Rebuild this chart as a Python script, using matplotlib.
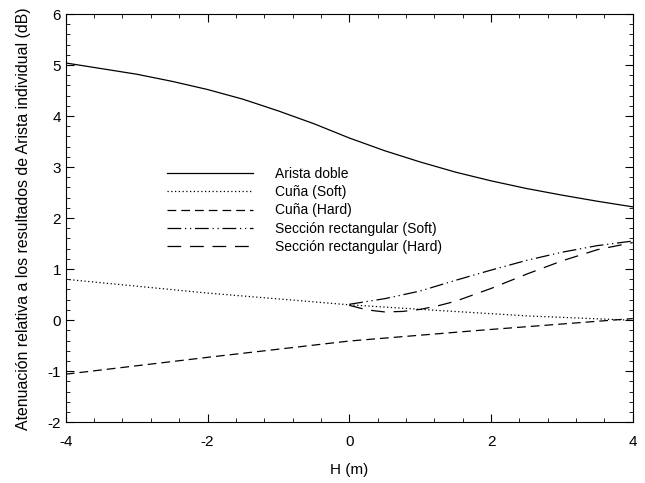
import numpy as np
import matplotlib
matplotlib.use("Agg")
import matplotlib.pyplot as plt
from matplotlib.ticker import MultipleLocator

plt.rcParams["font.family"] = ["Liberation Sans", "DejaVu Sans"]
plt.rcParams["font.size"] = 10
plt.rcParams["axes.unicode_minus"] = False

# Arista doble
h_doble = [-4.0, -3.5, -3.0, -2.5, -2.0, -1.5, -1.0, -0.5, 0.0, 0.5, 1.0, 1.5, 2.0, 2.5, 3.0, 3.5, 4.0]
a_doble = [5.04, 4.93, 4.82, 4.68, 4.52, 4.33, 4.10, 3.85, 3.57, 3.32, 3.10, 2.90, 2.73, 2.58, 2.45, 2.33, 2.22]

# Cuña (Soft)
h_cuna_soft = [-4.0, -2.0, 0.0, 1.13, 2.54, 3.95]
a_cuna_soft = [0.80, 0.53, 0.30, 0.20, 0.08, 0.0]

# Cuña (Hard)
h_cuna_hard = [-4.0, -2.0, 0.0, 1.84, 4.0]
a_cuna_hard = [-1.06, -0.73, -0.41, -0.20, 0.03]

# Sección rectangular (Soft)
h_rect_soft = [0.0, 0.5, 1.0, 1.5, 2.0, 2.5, 3.0, 3.5, 4.0]
a_rect_soft = [0.31, 0.42, 0.57, 0.78, 0.98, 1.17, 1.33, 1.46, 1.55]

# Sección rectangular (Hard)
h_rect_hard = [0.0, 0.25, 0.5, 0.75, 1.0, 1.25, 1.5, 2.0, 2.5, 3.0, 3.5, 4.0]
a_rect_hard = [0.29, 0.20, 0.16, 0.17, 0.21, 0.28, 0.37, 0.62, 0.90, 1.16, 1.38, 1.52]

fig = plt.figure(figsize=(6.45, 4.83), dpi=100)
ax = fig.add_axes([0.102, 0.126, 0.879, 0.845])

lw = 0.9
ax.plot(h_doble, a_doble, color="black", lw=lw, label="Arista doble")
ax.plot(h_cuna_soft, a_cuna_soft, color="black", lw=lw, linestyle=(0, (1, 2)), label="Cuña (Soft)")
ax.plot(h_cuna_hard, a_cuna_hard, color="black", lw=lw, linestyle=(0, (7, 4)), label="Cuña (Hard)")
ax.plot(h_rect_soft, a_rect_soft, color="black", lw=lw, linestyle=(0, (11, 3, 1, 3, 1, 3)),
        label="Sección rectangular (Soft)")
ax.plot(h_rect_hard, a_rect_hard, color="black", lw=lw, linestyle=(0, (11, 7)),
        label="Sección rectangular (Hard)")

ax.set_xlim(-4, 4)
ax.set_ylim(-2, 6)
ax.xaxis.set_major_locator(MultipleLocator(2))
ax.xaxis.set_minor_locator(MultipleLocator(0.4))
ax.yaxis.set_major_locator(MultipleLocator(1))
ax.yaxis.set_minor_locator(MultipleLocator(0.2))
ax.tick_params(which="both", direction="in", top=True, right=True)
ax.tick_params(which="major", length=6, labelsize=11)
ax.tick_params(axis="x", which="major", pad=9)
ax.tick_params(which="minor", length=3)

ax.set_xlabel("H (m)", fontsize=11, labelpad=10)
ax.set_ylabel("Atenuación relativa a los resultados de Arista individual (dB)", fontsize=11.4)
ax.yaxis.set_label_coords(-0.062, 0.498)

ax.legend(loc="upper left", bbox_to_anchor=(0.178, 0.625), frameon=False, borderpad=0,
          borderaxespad=0, handlelength=6.2, handletextpad=1.6, labelspacing=0.3)

fig.savefig("out.png", dpi=100)
